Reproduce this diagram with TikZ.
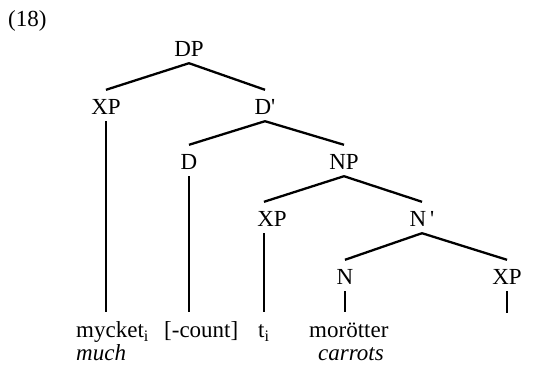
\documentclass[tikz,border=0pt]{standalone}
\usepackage{fontspec}
\setmainfont{Liberation Serif}
\begin{document}
\begin{tikzpicture}[x=1pt,y=1pt,
  cat/.style={anchor=base,inner xsep=0pt,inner ysep=6pt,text height=19pt,text depth=0pt},
  leaf/.style={anchor=base west,inner xsep=0pt,inner ysep=6pt,text height=20pt,text depth=0pt},
  branch/.style={line width=2.3pt},
  stem/.style={line width=1.5pt},
  font=\fontsize{23}{27}\selectfont]
\useasboundingbox (0,0) rectangle (554,364);
\node[anchor=base west,inner sep=0pt] (ex) at (8,337) {(18)};

\node[cat] (dp) at (189,307) {DP};
\node[cat] (xpa) at (106,249) {XP};
\node[cat] (dbar) at (265,249) {D\textquotesingle};
\node[cat] (d) at (189,194) {D};
\node[cat] (np) at (344,194) {NP};
\node[cat] (xpb) at (272,137) {XP};
\node[cat] (nbar) at (422,137) {N\,\textquotesingle};
\node[cat] (n) at (345,79) {N};
\node[cat] (xpc) at (507,79) {XP};

\node[leaf] (mycket) at (76,26) {mycket\textsubscript{i}};
\node[leaf] (count) at (164,26) {[-count]};
\node[leaf] (trace) at (258,26) {t\textsubscript{i}};
\node[leaf] (morotter) at (309,26) {morötter};
\node[leaf] (much) at (76,4) {\textit{much}};
\node[leaf] (carrots) at (318,4) {\textit{carrots}};
\coordinate (xpc-end) at (507,51);

\draw[branch] (dp.south) -- (xpa.north);
\draw[branch] (dp.south) -- (dbar.north);
\draw[branch] (dbar.south) -- (d.north);
\draw[branch] (dbar.south) -- (np.north);
\draw[branch] (np.south) -- ([xshift=-8pt]xpb.north);
\draw[branch] (np.south) -- (nbar.north);
\draw[branch] (nbar.south) -- (n.north);
\draw[branch] (nbar.south) -- (xpc.north);

\draw[stem] (xpa.south) -- (xpa.south |- mycket.north);
\draw[stem] (d.south) -- (d.south |- count.north);
\draw[stem] ([xshift=-8pt]xpb.south) -- ([xshift=-8pt]xpb.south |- trace.north);
\draw[stem] (n.south) -- (n.south |- morotter.north);
\draw[stem] (xpc.south) -- (xpc-end);
\end{tikzpicture}
\end{document}
